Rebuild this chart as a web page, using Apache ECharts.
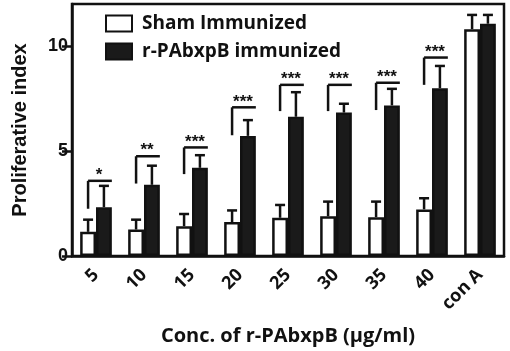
<!DOCTYPE html>
<html>
<head>
<meta charset="utf-8">
<script src="https://cdn.jsdelivr.net/npm/echarts@6/dist/echarts.min.js"></script>
<style>
  html, body { margin: 0; padding: 0; background: #fff; }
  #chart { width: 510px; height: 351px; }
</style>
</head>
<body>
<div id="chart"></div>
<script>
// categories (r-PAbxpB concentration, µg/ml)
const categories = ['5', '10', '15', '20', '25', '30', '35', '40', 'con A']

// mean proliferative index
const shamValues = [1.15, 1.26, 1.42, 1.62, 1.82, 1.89, 1.85, 2.22, 10.8]
const pabValues = [2.32, 3.39, 4.2, 5.72, 6.63, 6.83, 7.17, 7.99, 11.06]

// error bars (upper half only)
const shamErr = [0.58, 0.47, 0.58, 0.55, 0.61, 0.7, 0.74, 0.53, 0.68]
const pabErr = [1.02, 0.91, 0.6, 0.75, 1.17, 0.42, 0.79, 1.06, 0.42]

// significance brackets: line height, bottom of left leg, label
const sigLevel = [3.58, 4.75, 5.17, 7.08, 8.15, 8.15, 8.25, 9.45]
const sigLegLow = [2.25, 3.45, 3.9, 5.75, 6.9, 6.9, 6.95, 8.15]
const sigLabels = ['*', '**', '***', '***', '***', '***', '***', '***']

const yTicks = [0, 5, 10]

const BAR_RATIO = 0.33
const LINE_W = 2.5

const chart = echarts.init(document.getElementById('chart'))

const errData = []
shamValues.forEach((v, i) => errData.push([i, v, v + shamErr[i], -1]))
pabValues.forEach((v, i) => errData.push([i, v, v + pabErr[i], 1]))

const sigData = sigLevel.map((lv, i) => [i, lv, sigLegLow[i], sigLabels[i]])

const option = {
  animation: false,
  grid: {
    left: 72,
    right: 6,
    top: 4,
    bottom: 91,
    show: true,
    borderColor: '#111',
    borderWidth: LINE_W
  },
  legend: {
    orient: 'vertical',
    left: 100,
    top: 9,
    icon: 'rect',
    itemWidth: 26,
    itemHeight: 16,
    itemGap: 9,
    data: ['Sham Immunized', 'r-PAbxpB immunized'],
    textStyle: {
      fontFamily: 'Open Sans',
      fontWeight: 'bold',
      fontSize: 19,
      color: '#111',
      padding: [0, 0, 0, 5]
    }
  },
  xAxis: {
    type: 'category',
    data: categories,
    name: 'Conc. of r-PAbxpB (μg/ml)',
    nameLocation: 'middle',
    nameGap: 70,
    nameTextStyle: {
      fontFamily: 'Open Sans',
      fontWeight: 'bold',
      fontSize: 20,
      color: '#111'
    },
    axisLine: { lineStyle: { color: '#111', width: LINE_W } },
    axisTick: {
      alignWithLabel: true,
      length: 7,
      lineStyle: { color: '#111', width: LINE_W }
    },
    axisLabel: {
      rotate: 45,
      margin: 16,
      fontFamily: 'Open Sans',
      fontWeight: 'bold',
      fontSize: 18,
      color: '#111'
    }
  },
  yAxis: {
    type: 'value',
    min: 0,
    max: 12,
    name: 'Proliferative index',
    nameLocation: 'middle',
    nameGap: 42,
    nameTextStyle: {
      fontFamily: 'Liberation Sans',
      fontWeight: 'bold',
      fontSize: 20,
      color: '#111'
    },
    splitLine: { show: false },
    axisLine: { show: true, lineStyle: { color: '#111', width: LINE_W } },
    axisTick: {
      show: true,
      length: 10,
      customValues: yTicks,
      lineStyle: { color: '#111', width: LINE_W }
    },
    axisLabel: {
      customValues: yTicks,
      margin: 4,
      fontFamily: 'Liberation Sans',
      fontWeight: 'bold',
      fontSize: 18,
      color: '#111'
    }
  },
  series: [
    {
      name: 'Sham Immunized',
      type: 'bar',
      data: shamValues,
      barWidth: (BAR_RATIO * 100) + '%',
      barGap: '0%',
      itemStyle: { color: '#fff', borderColor: '#111', borderWidth: LINE_W }
    },
    {
      name: 'r-PAbxpB immunized',
      type: 'bar',
      data: pabValues,
      barWidth: (BAR_RATIO * 100) + '%',
      barGap: '0%',
      itemStyle: { color: '#1a1a1a', borderColor: '#111', borderWidth: LINE_W }
    },
    {
      // error bars
      type: 'custom',
      data: errData,
      z: 1,
      renderItem: (params, api) => {
        const idx = api.value(0)
        const side = api.value(3)
        const band = api.size([1, 0])[0]
        const bw = band * BAR_RATIO
        const base = api.coord([idx, api.value(1)])
        const top = api.coord([idx, api.value(2)])
        const x = base[0] + side * bw / 2
        const style = { stroke: '#111', lineWidth: LINE_W }
        return {
          type: 'group',
          children: [
            { type: 'line', shape: { x1: x, y1: base[1], x2: x, y2: top[1] }, style },
            { type: 'line', shape: { x1: x - 5, y1: top[1], x2: x + 5, y2: top[1] }, style }
          ]
        }
      }
    },
    {
      // significance brackets
      type: 'custom',
      data: sigData,
      z: 3,
      renderItem: (params, api) => {
        const idx = api.value(0)
        const band = api.size([1, 0])[0]
        const bw = band * BAR_RATIO
        const p = api.coord([idx, api.value(1)])
        const low = api.coord([idx, api.value(2)])
        const x1 = p[0] - bw / 2
        const x2 = p[0] + bw
        const style = { stroke: '#111', lineWidth: LINE_W }
        return {
          type: 'group',
          children: [
            { type: 'line', shape: { x1: x1, y1: p[1], x2: x2, y2: p[1] }, style },
            { type: 'line', shape: { x1: x1, y1: p[1], x2: x1, y2: low[1] }, style },
            {
              type: 'text',
              x: p[0] + 3,
              y: p[1] + 3,
              style: {
                text: sigLabels[idx],
                fill: '#111',
                font: 'bold 17px "Liberation Sans"',
                textAlign: 'center',
                textVerticalAlign: 'bottom'
              }
            }
          ]
        }
      }
    }
  ]
}

chart.setOption(option)
</script>
</body>
</html>
